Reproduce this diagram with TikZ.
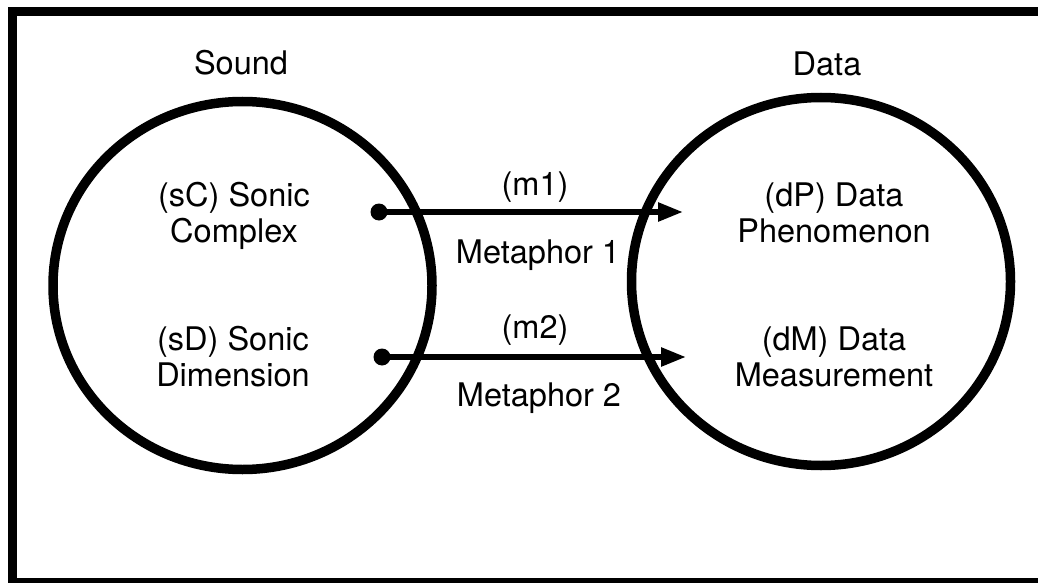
\documentclass[tikz,border=0pt]{standalone}
\usepackage{fontspec}
\setmainfont{TeX Gyre Heros}
\usetikzlibrary{shapes.geometric,arrows.meta}

\tikzset{
  lbl/.style={inner sep=0pt, anchor=base, align=center,
              font=\fontsize{32.5}{35.5}\selectfont},
  realm/.style={ellipse, draw, line width=9.5pt, inner sep=0pt,
                minimum width=379pt, minimum height=368pt},
  dot/.style={circle, fill, inner sep=0pt, minimum size=17pt},
  maparrow/.style={line width=5.5pt,
                   -{Triangle[length=25pt,width=18pt]}},
}

\begin{document}
\begin{tikzpicture}[x=1pt,y=-1pt]
  \useasboundingbox (0,0) rectangle (1038,583);
  \fill[white] (0,0) rectangle (1038,583);

  % outer frame, running past the right and bottom edges
  \draw[line width=9pt] (12,11.5) rectangle (1050,582.5);

  % the two domains
  \node[realm] (sound) at (242.5,285.5) {};
  \node[realm] (data)  at (821,281.5) {};

  \node[lbl] (soundT) at (241,75) {Sound};
  \node[lbl] (dataT)  at (827,76) {Data};

  % concepts inside each domain (base = last line)
  \node[lbl] (sC) at (234,242) {(sC) Sonic\\Complex};
  \node[lbl] (sD) at (233,386) {(sD) Sonic\\Dimension};
  \node[lbl] (dP) at (834,242) {(dP) Data\\Phenomenon};
  \node[lbl] (dM) at (834,386) {(dM) Data\\Measurement};

  % metaphor mappings
  \node[dot] (p1) at (379,212) {};
  \node[dot] (p2) at (382,357) {};
  \coordinate (q1) at (683,212);
  \coordinate (q2) at (686,357);
  \draw[maparrow] (p1.center) -- (q1);
  \draw[maparrow] (p2.center) -- (q2);

  \node[lbl] (m1)  at (535,195) {(m1)};
  \node[lbl] (mt1) at (538,263) {Metaphor 1};
  \node[lbl] (m2)  at (535,338) {(m2)};
  \node[lbl] (mt2) at (539,406) {Metaphor 2};
\end{tikzpicture}
\end{document}
